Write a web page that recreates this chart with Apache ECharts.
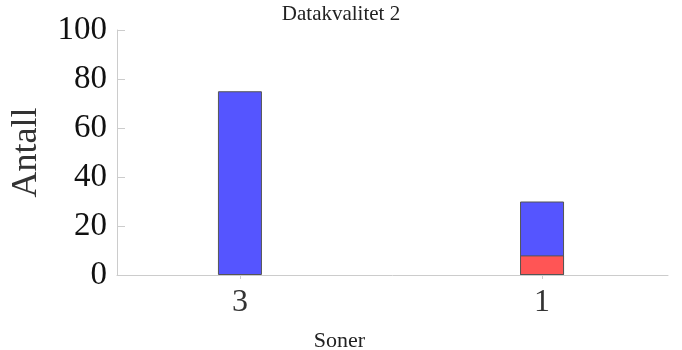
<!DOCTYPE html>
<html><head><meta charset="utf-8">
<script src="https://cdn.jsdelivr.net/npm/echarts@6/dist/echarts.min.js"></script>
<style>html,body{margin:0;padding:0;background:#fff}#c{width:682px;height:350px}</style>
</head><body><div id="c"></div>
<script>
var categories = ['3', '1'];
var redValues = [0, 8];
var blueValues = [75, 22];
var yTicks = [0, 20, 40, 60, 80, 100];

var serif = 'Liberation Serif';
var totals = blueValues.map(function(v, i){ return v + redValues[i]; });
function toPairs(vals){
  var out = [];
  vals.forEach(function(v,i){ if(v) out.push([i, v]); });
  return out;
}
var chart = echarts.init(document.getElementById('c'));
chart.setOption({
  animation: false,
  backgroundColor: '#fff',
  title: { text: 'Datakvalitet 2', left: 'center', top: -1,
    textStyle: { fontFamily: serif, fontWeight: 'normal', fontSize: 21, color: '#222' } },
  grid: { left: 117, right: 14, top: 30, bottom: 75, outerBoundsMode: 'none', containLabel: false },
  xAxis: {
    type: 'value', min: -0.407, max: 1.417,
    name: 'Soner', nameLocation: 'middle', nameGap: 55,
    nameTextStyle: { fontFamily: serif, fontSize: 22, color: '#222', padding: [0, 106, 0, 0] },
    splitLine: { show: false },
    axisLine: { show: true, onZero: false, lineStyle: { color: '#ccc' } },
    axisTick: { show: true, customValues: [0, 1], length: 4, lineStyle: { color: '#ccc' } },
    axisLabel: { customValues: [0, 1], margin: 12,
      formatter: function(v){ return categories[Math.round(v)]; },
      fontFamily: serif, fontSize: 32, color: '#333' }
  },
  yAxis: {
    type: 'value', min: 0, max: 100, interval: 20,
    name: 'Antall', nameLocation: 'middle', nameGap: 72, nameRotate: 90,
    nameTextStyle: { fontFamily: serif, fontSize: 36, color: '#333' },
    splitLine: { show: false },
    axisLine: { show: true, onZero: false, lineStyle: { color: '#ccc' } },
    axisTick: { show: true, inside: true, length: 8, lineStyle: { color: '#ccc' } },
    axisLabel: { margin: 10, fontFamily: serif, fontSize: 33, color: '#111',
      formatter: function(v){ return yTicks.indexOf(v) >= 0 ? String(v) : ''; } }
  },
  series: [
    { type: 'bar', data: toPairs(totals), barWidth: 44, barGap: '-100%',
      itemStyle: { color: '#5555ff', borderColor: '#555', borderWidth: 1 } },
    { type: 'bar', data: toPairs(redValues), barWidth: 44, barGap: '-100%',
      itemStyle: { color: '#ff5555', borderColor: '#555', borderWidth: 1 } }
  ]
});
</script></body></html>
